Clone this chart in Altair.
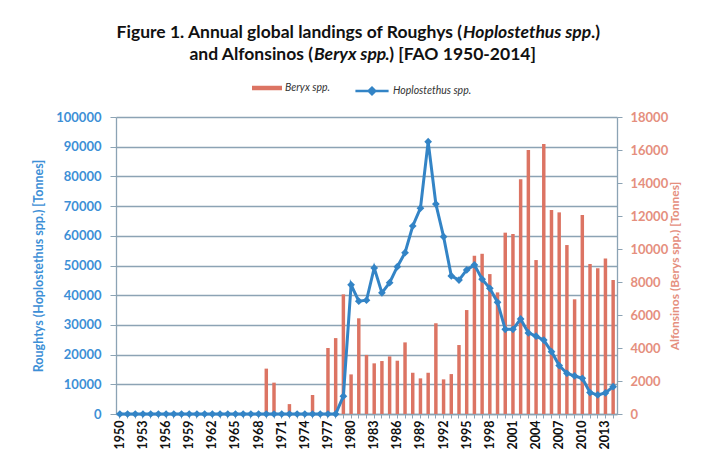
import altair as alt
import pandas as pd

# ---- data ----
years = list(range(1950, 2015))
hoplostethus = [
    0, 0, 0, 0, 0, 0, 0, 0, 0, 0,          # 1950-1959
    0, 0, 0, 0, 0, 0, 0, 0, 0, 0,          # 1960-1969
    0, 0, 0, 0, 0, 0, 0, 0, 0, 6000,       # 1970-1979
    43500, 38000, 38300, 49200, 40800, 44200, 49600, 54300, 63300, 69300,   # 1980-1989
    91700, 70700, 59700, 46500, 45100, 48500, 50200, 45400, 42300, 37600,   # 1990-1999
    28500, 28500, 32000, 27300, 26200, 24900, 21000, 16300, 13700, 12800,   # 2000-2009
    12000, 7200, 6400, 7100, 9200,                                          # 2010-2014
]
beryx = [
    0, 0, 0, 0, 0, 0, 0, 0, 0, 0,          # 1950-1959
    0, 0, 0, 0, 0, 0, 0, 0, 0, 2750,       # 1960-1969
    1900, 0, 600, 0, 0, 1150, 0, 4000, 4600, 7250,                          # 1970-1979
    2400, 5800, 3580, 3070, 3210, 3490, 3230, 4340, 2500, 2160,             # 1980-1989
    2500, 5500, 2100, 2420, 4180, 6300, 9590, 9710, 8480, 7370,             # 1990-1999
    10990, 10910, 14220, 16000, 9330, 16360, 12360, 12220, 10240, 6950,     # 2000-2009
    12060, 9090, 8830, 9430, 8120,                                          # 2010-2014
]
left_ticks = [0, 10000, 20000, 30000, 40000, 50000, 60000, 70000, 80000, 90000, 100000]
right_ticks = [0, 2000, 4000, 6000, 8000, 10000, 12000, 14000, 16000, 18000]
series_names = ["Beryx spp.", "Hoplostethus spp."]
title_line1 = ["Figure 1. Annual global landings of Roughys (", "Hoplostethus spp", ".)"]
title_line2 = ["and Alfonsinos (", "Beryx spp", ".) [FAO 1950-2014]"]
left_title = "Roughtys (Hoplostethus spp.) [Tonnes]"
right_title = "Alfonsinos (Berys spp.) [Tonnes]"

BLUE = "#3384c6"
RED = "#dc7463"
SALMON = "#e58f7e"
LBLUE = "#3d8fd6"
GRID = "#8ca3b4"
FONT = "Lato"

df = pd.DataFrame({"year": years, "Hoplostethus": hoplostethus, "Beryx": beryx})

x = alt.X(
    "year:O", title=None,
    scale=alt.Scale(paddingInner=0.55, paddingOuter=0.275),
    axis=alt.Axis(labelAngle=270, labelExpr="datum.value % 3 == 0 ? datum.label : ''",
                  labelOverlap=False, labelFont=FONT, labelFontSize=12.5, labelFontWeight="bold",
                  labelColor="#111111", labelPadding=2, tickColor=GRID, tickSize=4,
                  domainColor=GRID, domainWidth=1.3, grid=False),
)

bars = alt.Chart(df).transform_calculate(series="'Beryx spp.'").mark_bar(color=RED).encode(
    x=x,
    y=alt.Y("Beryx:Q", title=right_title,
            scale=alt.Scale(domain=[0, 18000], nice=False),
            axis=alt.Axis(orient="right", values=right_ticks, format="d", grid=False,
                          labelFont=FONT, labelFontSize=13, labelFontWeight="bold", labelColor=SALMON,
                          labelPadding=8, tickColor=GRID, tickSize=5, domainColor=GRID, domainWidth=1.3,
                          titleFont=FONT, titleFontSize=12, titleFontWeight="bold", titleColor=SALMON,
                          titleAngle=270, titlePadding=14)),
    color=alt.Color("series:N",
                    scale=alt.Scale(domain=[series_names[0]], range=[RED]),
                    legend=alt.Legend(title=None, orient="none", legendX=136, legendY=-44, padding=0,
                                      symbolType="M-1,-0.15H1V0.15H-1Z", symbolSize=900,
                                      symbolStrokeWidth=0, symbolFillColor=RED,
                                      labelFont=FONT, labelFontStyle="italic", labelFontSize=10.5,
                                      labelColor="#333333", labelOffset=3)),
)

line = alt.Chart(df).transform_calculate(series="'Hoplostethus spp.'").mark_line(
    strokeWidth=3,
    point=alt.OverlayMarkDef(shape="diamond", size=60, filled=True),
).encode(
    x=x,
    y=alt.Y("Hoplostethus:Q", title=left_title,
            scale=alt.Scale(domain=[0, 100000], nice=False),
            axis=alt.Axis(orient="left", values=left_ticks, format="d", grid=True,
                          gridColor=GRID, gridWidth=1.3,
                          labelFont=FONT, labelFontSize=13, labelFontWeight="bold", labelColor=LBLUE,
                          labelPadding=9, tickColor=GRID, tickSize=6, domainColor=GRID, domainWidth=1.3,
                          titleFont=FONT, titleFontSize=12.5, titleFontWeight="bold", titleColor=LBLUE,
                          titlePadding=10)),
    color=alt.Color("series:N",
                    scale=alt.Scale(domain=[series_names[1]], range=[BLUE]),
                    legend=alt.Legend(title=None, orient="none", legendX=238, legendY=-44, padding=0,
                                      symbolType="M-1,0H1M-0.2,0L0,-0.2L0.2,0L0,0.2Z", symbolSize=1100,
                                      symbolStrokeWidth=2.5, symbolStrokeColor=BLUE, symbolFillColor=BLUE,
                                      labelFont=FONT, labelFontStyle="italic", labelFontSize=10.5,
                                      labelColor="#333333", labelOffset=3)),
)

tdf = pd.DataFrame({"t": [0]})


def seg(text, xv, yv, align, italic):
    return alt.Chart(tdf).mark_text(
        text=text, align=align, baseline="alphabetic", font=FONT, fontSize=17.5,
        fontWeight="bold", fontStyle="italic" if italic else "normal", color="#111111",
    ).encode(x=alt.value(xv), y=alt.value(yv))


segs = [
    seg(title_line1[0], 346, -79, "right", False),
    seg(title_line1[1], 347, -79, "left", True),
    seg(title_line1[2], 475, -79, "left", False),
    seg(title_line2[0], 197, -57, "right", False),
    seg(title_line2[1], 198, -57, "left", True),
    seg(title_line2[2], 269, -57, "left", False),
]

chart = alt.layer(bars, line, *segs).resolve_scale(
    y="independent", color="independent"
).properties(
    width=501, height=297, autosize="none",
    padding={"left": 108, "top": 109, "right": 92, "bottom": 35},
    background="white",
).configure(font=FONT).configure_view(stroke=None)

chart.save("out.html", embed_options={"renderer": "svg", "actions": False})
